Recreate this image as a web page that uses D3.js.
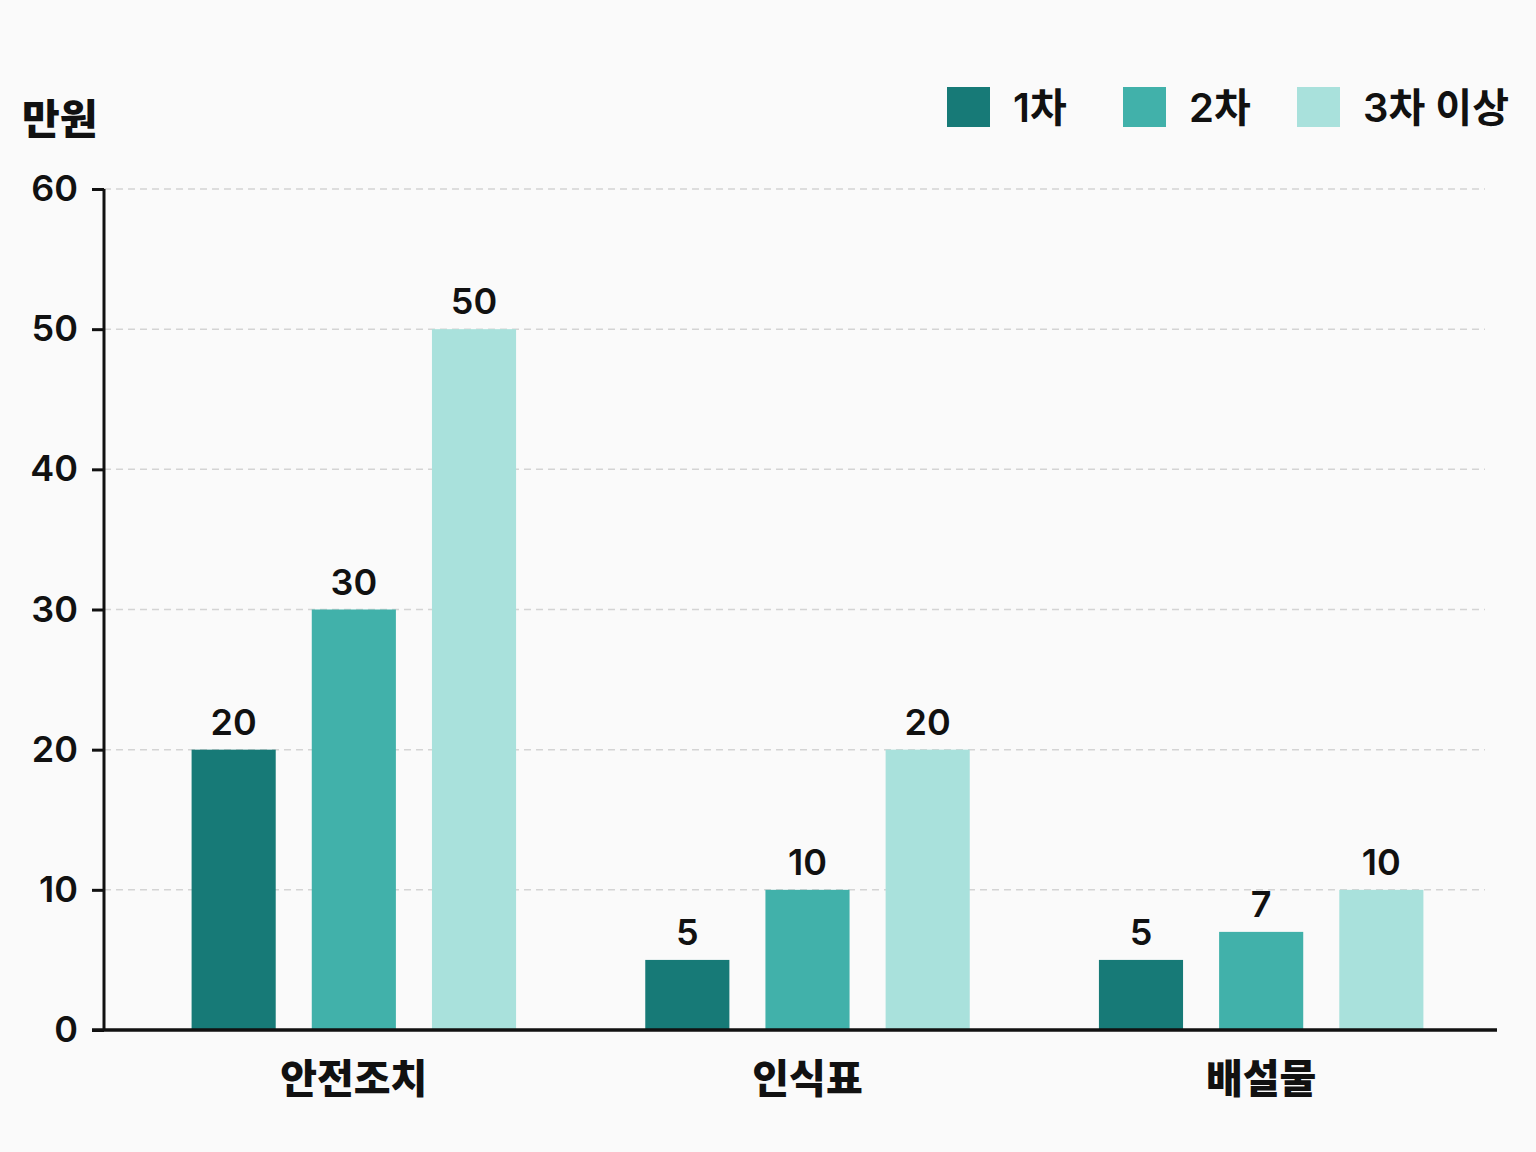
<!DOCTYPE html>
<html>
<head>
<meta charset="utf-8">
<script src="https://cdn.jsdelivr.net/npm/d3@7"></script>
<style>
  html, body { margin: 0; padding: 0; background: #fafafa; }
  svg { display: block; font-family: Inter, "Noto Sans CJK KR", sans-serif; }
</style>
</head>
<body>
<svg id="chart" width="1536" height="1152"></svg>
<script>
// data
const categories = ["안전조치", "인식표", "배설물"];
const seriesNames = ["1차", "2차", "3차 이상"];
const first = [20, 5, 5];
const second = [30, 10, 7];
const third = [50, 20, 10];
const yTicks = [0, 10, 20, 30, 40, 50, 60];

const colors = ["#177a77", "#41b1aa", "#a9e1dc"];
const allSeries = [first, second, third];

const svg = d3.select("#chart");

const axisX = 104, baseY = 1030, topY = 189;
const numFont = "Inter, 'Noto Sans CJK KR', sans-serif";
const krFont = "'Noto Sans CJK KR', sans-serif";

let y = d3.scaleLinear().domain([0, 60]).range([baseY, topY]);

let x0 = d3.scaleBand()
    .domain(categories)
    .range([127, 1488])
    .paddingInner(0.2)
    .paddingOuter(0.1);

let x1 = d3.scaleBand()
    .domain(seriesNames)
    .range([0, x0.bandwidth()])
    .paddingInner(0.3)
    .paddingOuter(0.16);

// gridlines
svg.append("g")
    .selectAll("line")
    .data(yTicks.filter(d => d > 0))
    .enter().append("line")
    .attr("x1", axisX)
    .attr("x2", 1485)
    .attr("y1", d => y(d))
    .attr("y2", d => y(d))
    .attr("stroke", "#d4d4d4")
    .attr("stroke-width", 1.5)
    .attr("stroke-dasharray", "7,5");

// bars
let rows = categories.map((c, i) => ({
    cat: c,
    vals: seriesNames.map((s, j) => ({name: s, value: allSeries[j][i], color: colors[j]}))
}));

let groups = svg.append("g").selectAll("g.grp").data(rows).enter()
    .append("g")
    .attr("class", "grp")
    .attr("transform", d => "translate(" + x0(d.cat) + ",0)");

groups.selectAll("rect").data(d => d.vals).enter()
    .append("rect")
    .attr("x", d => x1(d.name))
    .attr("y", d => y(d.value))
    .attr("width", x1.bandwidth())
    .attr("height", d => baseY - y(d.value))
    .attr("fill", d => d.color);

groups.selectAll("text").data(d => d.vals).enter()
    .append("text")
    .attr("x", d => x1(d.name) + x1.bandwidth() / 2)
    .attr("y", d => y(d.value) - 15)
    .attr("text-anchor", "middle")
    .attr("font-family", numFont)
    .attr("font-size", 36)
    .attr("font-weight", 600)
    .attr("fill", "#111")
    .text(d => d.value);

// y axis
let yAxis = d3.axisLeft(y).tickValues(yTicks).tickSize(12).tickPadding(14);
let yg = svg.append("g")
    .attr("transform", "translate(" + axisX + ",0)")
    .call(yAxis);
yg.select(".domain").attr("stroke", "#111").attr("stroke-width", 3)
    .attr("d", "M0," + topY + "V" + baseY);
yg.selectAll(".tick line").attr("stroke", "#111").attr("stroke-width", 3);
yg.selectAll(".tick text")
    .attr("font-size", 36)
    .attr("font-weight", 600)
    .attr("fill", "#111")
    .attr("font-family", numFont);

// x axis
svg.append("line")
    .attr("x1", axisX - 12)
    .attr("x2", 1497)
    .attr("y1", baseY)
    .attr("y2", baseY)
    .attr("stroke", "#111")
    .attr("stroke-width", 3.5);

svg.append("g").selectAll("text").data(categories).enter()
    .append("text")
    .attr("x", d => x0(d) + x0.bandwidth() / 2)
    .attr("y", 1093)
    .attr("text-anchor", "middle")
    .attr("font-family", krFont)
    .attr("font-size", 40)
    .attr("font-weight", 800)
    .attr("fill", "#111")
    .text(d => d);

// unit label
svg.append("text")
    .attr("x", 22)
    .attr("y", 134)
    .attr("font-family", krFont)
    .attr("font-size", 41)
    .attr("font-weight", 800)
    .attr("fill", "#111")
    .text("만원");

// legend
let legendX = [947, 1123, 1297];
let leg = svg.append("g").selectAll("g").data(seriesNames).enter()
    .append("g")
    .attr("transform", (d, i) => "translate(" + legendX[i] + ",87)");
leg.append("rect")
    .attr("width", 43)
    .attr("height", 40)
    .attr("fill", (d, i) => colors[i]);
leg.append("text")
    .attr("x", 66)
    .attr("y", 35)
    .attr("font-family", numFont)
    .attr("font-size", 40)
    .attr("font-weight", 600)
    .attr("fill", "#111")
    .text(d => d);
</script>
</body>
</html>
